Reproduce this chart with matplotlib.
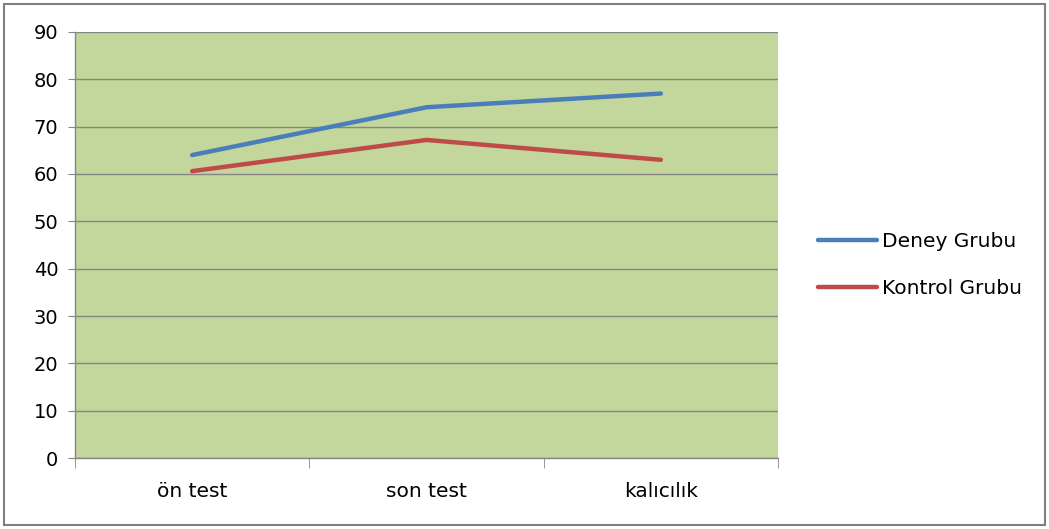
import matplotlib.pyplot as plt
from matplotlib.patches import Rectangle

categories = ['ön test', 'son test', 'kalıcılık']
deney = [64.0, 74.1, 77.0]
kontrol = [60.6, 67.2, 63.0]

plt.rcParams['font.family'] = ['DejaVu Sans']

fig = plt.figure(figsize=(10.49, 5.29), dpi=100)
ax = fig.add_axes([75 / 1049, 71 / 529, 703 / 1049, 426 / 529])
ax.set_facecolor('#c3d69b')

x = range(len(categories))
ax.plot(x, deney, color='#4a7ebb', lw=3.2, solid_capstyle='round', label='Deney Grubu')
ax.plot(x, kontrol, color='#be4b48', lw=3.2, solid_capstyle='round', label='Kontrol Grubu')

ax.set_xlim(-0.5, len(categories) - 0.5)
ax.set_ylim(0, 90)
ax.set_yticks(range(0, 91, 10))
ax.set_xticks(list(x))
ax.set_xticklabels(categories)
ax.set_xticks([i - 0.5 for i in range(len(categories) + 1)], minor=True)
ax.tick_params(axis='x', which='major', length=0, pad=17, labelsize=14.5, colors='#000000')
ax.tick_params(axis='x', which='minor', length=7, color='#868686', direction='out')
ax.tick_params(axis='y', length=5, color='#868686', labelsize=14, pad=7)

ax.grid(axis='y', color='#868686', lw=1)
ax.set_axisbelow(True)
for s in ['top', 'right']:
    ax.spines[s].set_visible(False)
for s in ['left', 'bottom']:
    ax.spines[s].set_color('#868686')
    ax.spines[s].set_linewidth(1)

leg = fig.legend(loc='center left', bbox_to_anchor=(800 / 1049, 1 - 265 / 529),
                 frameon=False, fontsize=14.5, handlelength=2.9, labelspacing=1.4, handletextpad=0.25)

fig.patches.append(Rectangle((4 / 1049, 4 / 529), 1041 / 1049, 521 / 529, transform=fig.transFigure,
                             fill=False, edgecolor='#7f7f7f', lw=1.5))

fig.savefig('out.png', dpi=100)
